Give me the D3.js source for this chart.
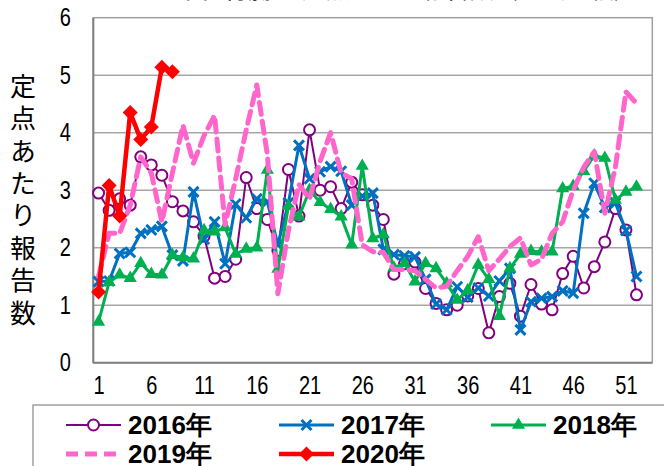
<!DOCTYPE html>
<html><head><meta charset="utf-8">
<script src="https://cdn.jsdelivr.net/npm/d3@7/dist/d3.min.js"></script>
<style>body{margin:0;background:#fff} svg{display:block}</style>
</head><body>
<svg id="c" width="664" height="466"></svg>
<script>
// ---- data ----
const weeks = d3.range(1, 54);               // categories: week 1..53
const xTickLabels = [1, 6, 11, 16, 21, 26, 31, 36, 41, 46, 51];
const yTickLabels = [0, 1, 2, 3, 4, 5, 6];
const seriesNames = ["2016年", "2017年", "2018年", "2019年", "2020年"];

const v2016 = [2.95,2.65,2.85,2.74,3.58,3.44,3.26,2.80,2.64,2.45,2.20,1.47,1.50,1.80,3.22,2.68,2.49,1.95,3.36,2.55,4.05,3.00,3.06,2.68,3.14,2.92,2.74,2.49,1.54,1.72,1.75,1.29,1.03,0.92,1.00,1.16,1.29,0.52,1.15,1.38,0.81,1.36,1.02,0.92,1.55,1.85,1.30,1.67,2.10,2.68,2.31,1.18];
const v2017 = [1.41,1.42,1.90,1.92,2.25,2.31,2.37,1.87,1.77,2.97,2.15,2.45,1.72,2.76,2.52,2.85,2.80,2.05,2.78,3.78,3.20,3.32,3.41,3.33,2.74,2.90,2.95,1.97,1.88,1.86,1.84,1.45,1.02,0.92,1.32,1.14,1.30,1.16,1.42,1.64,0.57,1.06,1.12,1.15,1.25,1.21,2.60,3.12,2.70,2.78,2.30,1.50];
const v2018 = [0.71,1.40,1.53,1.47,1.73,1.54,1.53,1.87,1.83,1.81,2.30,2.28,2.35,1.89,1.98,2.00,3.35,1.63,2.72,2.54,3.00,2.79,2.67,2.54,2.05,3.42,2.16,2.23,1.65,1.73,1.41,1.73,1.64,1.38,1.09,1.26,1.70,1.45,0.81,1.64,1.89,1.94,1.93,1.93,3.03,3.07,3.33,3.60,3.56,2.83,2.97,3.06];
const v2019 = [1.50,2.25,2.25,2.74,3.58,3.30,2.45,3.30,4.13,3.47,3.95,4.30,2.40,3.20,4.05,4.83,3.62,1.20,2.30,3.10,2.85,3.50,4.00,3.30,3.20,2.05,1.93,1.92,1.62,1.62,1.60,1.45,1.30,1.33,1.60,1.85,2.19,1.60,1.80,2.02,2.17,1.70,1.80,2.25,2.45,3.00,3.40,3.67,2.60,3.40,4.71,4.51];
const v2020 = [1.23,3.08,2.55,4.35,3.88,4.10,5.14,5.06];

const colors = ["#800080", "#0070C0", "#00B050", "#FF66CC", "#FF0000"];
const allSeries = [v2016, v2017, v2018, v2019, v2020];

// ---- layout ----
const svg = d3.select("#c");
const L = 93.3, R = 652.3, T = 17.7, B = 362.7;
const x = d3.scalePoint().domain(weeks).range([L, R]).padding(0.5);
const y = d3.scaleLinear().domain([0, 6]).range([B, T]);
const numFont = "'Liberation Sans','Arial',sans-serif";
const cjk = "'Noto Sans CJK JP','Noto Sans',sans-serif";

// title (cut off at top in the reference)
svg.append("text").attr("x", 395).attr("y", -2).attr("text-anchor", "middle")
  .attr("font-family", cjk).attr("font-size", 24).attr("fill", "#000")
  .text("感染性胃腸炎 定点あたり報告数（過去比較）");

// gridlines
svg.append("g").selectAll("line").data(yTickLabels.filter(d => d > 0 && d < 6)).join("line")
  .attr("x1", L).attr("x2", R).attr("y1", d => y(d)).attr("y2", d => y(d))
  .attr("stroke", "#a6a6a6").attr("stroke-width", 1.5);

// plot border
svg.append("rect").attr("x", L).attr("y", T).attr("width", R - L).attr("height", B - T)
  .attr("fill", "none").attr("stroke", "#a0a0a0").attr("stroke-width", 1.5);
svg.append("line").attr("x1", L).attr("x2", R).attr("y1", B).attr("y2", B)
  .attr("stroke", "#808080").attr("stroke-width", 2);
svg.append("line").attr("x1", L).attr("x2", L).attr("y1", T).attr("y2", B)
  .attr("stroke", "#808080").attr("stroke-width", 2);

// axes
const xAxis = svg.append("g").attr("transform", `translate(0,${B})`)
  .call(d3.axisBottom(x).tickValues(xTickLabels).tickSize(0).tickPadding(14));
xAxis.select(".domain").remove();
xAxis.selectAll("text").attr("font-family", numFont).attr("font-size", 25).attr("fill", "#000")
  .attr("transform", "scale(0.8,1)");

const yAxis = svg.append("g").attr("transform", `translate(${L},0)`)
  .call(d3.axisLeft(y).tickValues(yTickLabels).tickFormat(d3.format("d")).tickSize(0).tickPadding(28));
yAxis.select(".domain").remove();
yAxis.selectAll("text").attr("font-family", numFont).attr("font-size", 25).attr("fill", "#000")
  .attr("transform", "scale(0.8,1)");

// y title (vertical text)
svg.append("text")
  .attr("x", 23).attr("y", 73)
  .attr("writing-mode", "vertical-rl")
  .style("writing-mode", "vertical-rl")
  .attr("letter-spacing", 6.4)
  .attr("font-family", cjk).attr("font-size", 26).attr("fill", "#000")
  .text("定点あたり報告数");

// markers
function drawMarker(g, type, cx, cy, color) {
  if (type === 0) {
    g.append("circle").attr("cx", cx).attr("cy", cy).attr("r", 5.5)
      .attr("fill", "#fff").attr("stroke", color).attr("stroke-width", 2);
  } else if (type === 1) {
    g.append("path").attr("transform", `translate(${cx},${cy})`)
      .attr("d", "M-5,-5L5,5M-5,5L5,-5").attr("stroke", color).attr("stroke-width", 3).attr("fill", "none");
  } else if (type === 2) {
    g.append("path").attr("transform", `translate(${cx},${cy})`)
      .attr("d", d3.symbol(d3.symbolTriangle, 75)()).attr("fill", color);
  } else if (type === 4) {
    g.append("path").attr("transform", `translate(${cx},${cy})`)
      .attr("d", "M0,-7.5L7.5,0L0,7.5L-7.5,0Z").attr("fill", color);
  }
}
const widths = [2, 3, 3, 5, 4.5];
const line = d3.line().x((d, i) => x(weeks[i])).y(d => y(d));

allSeries.forEach((vals, s) => {
  const g = svg.append("g");
  const p = g.append("path").attr("d", line(vals)).attr("fill", "none")
    .attr("stroke", colors[s]).attr("stroke-width", widths[s]).attr("stroke-linejoin", "round");
  if (s === 3) p.attr("stroke-dasharray", "12,7").attr("stroke-linecap", "round");
  if (s !== 3) vals.forEach((v, i) => drawMarker(g, s, x(weeks[i]), y(v), colors[s]));
});

// legend
svg.append("rect").attr("x", 33).attr("y", 405).attr("width", 700).attr("height", 100)
  .attr("fill", "#fff").attr("stroke", "#a0a0a0").attr("stroke-width", 1.5);
const legPos = [[66, 425], [279, 425], [491, 425], [66, 454], [279, 454]];
seriesNames.forEach((name, s) => {
  const [lx, ly] = legPos[s];
  const g = svg.append("g");
  const ln = g.append("line").attr("x1", lx).attr("x2", lx + 55).attr("y1", ly).attr("y2", ly)
    .attr("stroke", colors[s]).attr("stroke-width", widths[s]);
  if (s === 3) ln.attr("stroke-dasharray", "12,7");
  drawMarker(g, s, lx + 27.5, ly, colors[s]);
  g.append("text").attr("x", lx + 62).attr("y", ly).attr("dominant-baseline", "central")
    .attr("font-family", numFont).attr("font-weight", "bold").attr("font-size", 26).attr("fill", "#000")
    .text(name);
});
</script>
</body></html>
